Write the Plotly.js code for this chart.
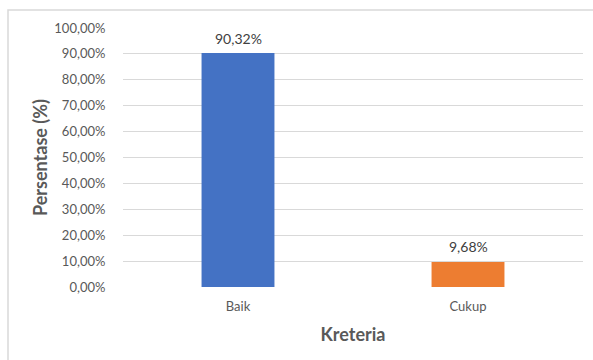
<!DOCTYPE html>
<html>
<head>
<meta charset="utf-8">
<script src="https://cdn.plot.ly/plotly-3.0.1.min.js"></script>
<style>
html,body{margin:0;padding:0;background:#fff;}
#chart{width:593px;height:360px;}
</style>
</head>
<body>
<div id="chart"></div>
<script>
var categories = ["Baik", "Cukup"];
var values = [90.32, 9.68];
var valueLabels = ["90,32%", "9,68%"];
var barColors = ["#4472C4", "#ED7D31"];
var tickValues = [0, 10, 20, 30, 40, 50, 60, 70, 80, 90, 100];
var tickLabels = ["0,00%", "10,00%", "20,00%", "30,00%", "40,00%", "50,00%", "60,00%", "70,00%", "80,00%", "90,00%", "100,00%"];

var font = "Lato, 'Open Sans', sans-serif";

var trace = {
  type: "bar",
  x: categories,
  y: values,
  marker: {color: barColors},
  cliponaxis: false,
  hoverinfo: "none"
};

var annotations = categories.map(function(c, i){
  return {
    x: c, y: values[i], xref: "x", yref: "y",
    text: valueLabels[i],
    showarrow: false,
    yanchor: "middle",
    yshift: 15,
    font: {family: font, size: 14, color: "#404040"}
  };
});

var layout = {
  width: 593,
  height: 360,
  separators: ",.",
  margin: {l: 123, r: 10, t: 28, b: 73, pad: 0},
  paper_bgcolor: "#ffffff",
  plot_bgcolor: "#ffffff",
  bargap: 0.683,
  showlegend: false,
  font: {family: font, color: "#595959"},
  annotations: annotations,
  xaxis: {
    type: "category",
    showgrid: false,
    showline: false,
    zeroline: false,
    ticks: "outside",
    ticklen: 7,
    tickcolor: "rgba(0,0,0,0)",
    tickfont: {family: font, size: 13, color: "#595959"},
    title: {text: "Kreteria", font: {family: font, size: 18, color: "#595959", weight: "bold"}, standoff: 15}
  },
  yaxis: {
    range: [0, 100],
    tickmode: "array",
    tickvals: tickValues,
    ticktext: tickLabels,
    showgrid: true,
    gridcolor: "#d9d9d9",
    gridwidth: 1,
    zeroline: false,
    showline: false,
    ticks: "outside",
    ticklen: 14,
    tickcolor: "rgba(0,0,0,0)",
    tickfont: {family: font, size: 13, color: "#595959"},
    title: {text: "Persentase (%)", font: {family: font, size: 18, color: "#595959", weight: "bold"}, standoff: 2}
  },
  shapes: [{
    type: "rect", xref: "paper", yref: "paper",
    x0: -0.25, x1: 1.2, y0: -0.5, y1: 1.0695,
    line: {color: "#d9d9d9", width: 1.5},
    fillcolor: "rgba(0,0,0,0)",
    layer: "below"
  }]
};

Plotly.newPlot("chart", [trace], layout, {displayModeBar: false, staticPlot: true});
</script>
</body>
</html>
